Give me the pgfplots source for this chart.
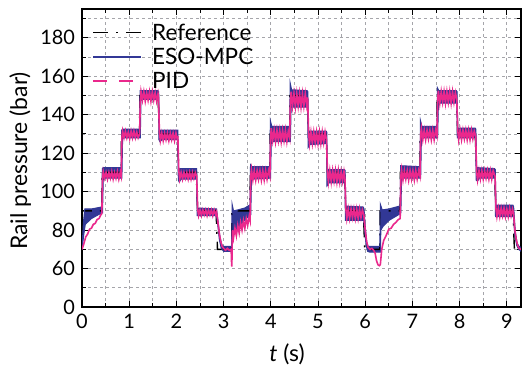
\documentclass[border=0pt]{standalone}
\usepackage{fontspec}
\setmainfont{Lato}
\usepackage{pgfplots}
\pgfplotsset{compat=1.18}
\usepgfplotslibrary{fillbetween}
\definecolor{esoblue}{RGB}{50,56,150}
\definecolor{pidmag}{RGB}{234,40,140}
\definecolor{gridgray}{RGB}{165,165,170}
\begin{document}
\begin{tikzpicture}
\begin{axis}[
  name=ax,
  scale only axis, width=219.5bp, height=149bp,
  xmin=0, xmax=9.3, ymin=40, ymax=195,
  xtick={0,1,...,9}, minor xtick={0.5,1.5,...,8.5},
  ytick={40,60,80,100,120,140,160,180},
  yticklabels={0,60,80,100,120,140,160,180},
  minor ytick={50,70,...,190},
  grid=both,
  major grid style={gridgray, line width=0.4bp, dash pattern=on 1.5bp off 1.5bp},
  minor grid style={gridgray, line width=0.4bp, dash pattern=on 1.5bp off 1.5bp},
  major tick length=3bp, minor tick length=2bp,
  tick style={black, line width=0.5bp},
  axis line style={black, line width=0.6bp},
  /pgf/number format/assume math mode=true,
  ticklabel style={font=\fontsize{10}{12}\selectfont},
  xlabel={\textit{t} (s)},
  ylabel={Rail pressure (bar)},
  label style={font=\fontsize{11.5}{13}\selectfont},
  xlabel style={at={(axis description cs:0.467,0)}, anchor=center, yshift=-23.5bp},
  ylabel style={at={(axis description cs:-0.141,0.49)}, anchor=center},
  legend style={at={(axis description cs:0.02,0.966)}, anchor=north west, fill=none, draw=none,
    font=\fontsize{11.3}{13}\selectfont, row sep=-0.1bp, inner sep=0.5bp,
    nodes={text depth=0pt}},
  legend cell align=left,
  legend image code/.code={\draw[#1] (0bp,0bp) -- (24bp,0bp); \path (27bp,0bp);},
]
\addlegendimage{black, line width=0.8bp, dash pattern=on 7.5bp off 4bp on 1bp off 4bp}
\addlegendentry{Reference}
\addlegendimage{esoblue, line width=1bp}
\addlegendentry{ESO-MPC}
\addlegendimage{pidmag, line width=0.9bp, dash pattern=on 7bp off 6bp}
\addlegendentry{PID}

% Reference
\addplot[forget plot, black, line width=0.7bp, dash pattern=on 7.5bp off 4bp on 1bp off 4bp] coordinates {
(0,70) (0.005,90) (0.42,90) (0.425,110) (0.83,110) (0.835,130) (1.22,130) (1.225,150)
(1.61,150) (1.64,130) (2.02,130) (2.05,110) (2.42,110) (2.45,90) (2.84,90) (2.87,70)
(3.17,70) (3.175,90) (3.56,90) (3.565,110) (3.98,110) (3.985,130) (4.40,130) (4.405,150)
(4.77,150) (4.80,130) (5.17,130) (5.20,110) (5.56,110) (5.59,90) (5.96,90) (5.99,70)
(6.31,70) (6.315,90) (6.74,90) (6.745,110) (7.16,110) (7.165,130) (7.52,130) (7.525,150)
(7.93,150) (7.96,130) (8.33,130) (8.36,110) (8.74,110) (8.77,90) (9.13,90) (9.16,70) (9.3,70)
};

% ESO-MPC band: upper and lower envelopes
\addplot[forget plot, name path=U, esoblue, line width=0.5bp] coordinates {
(0,70) (0.03,84) (0.06,91) (0.2,91) (0.41,92)
(0.42,92) (0.43,112) (0.45,112.5) (0.82,112.5)
(0.83,112.5) (0.84,132) (0.86,132.5) (1.21,132.5)
(1.22,132.5) (1.23,152.5) (1.61,152.5)
(1.625,152) (1.64,132) (2.02,132)
(2.03,132) (2.045,112) (2.42,112)
(2.43,112) (2.445,91.5) (2.85,91)
(2.88,85) (2.92,77) (2.96,72.5) (3.0,71.5) (3.16,71.5)
(3.17,71.5) (3.18,93.5) (3.21,90) (3.3,90.5) (3.45,91.5) (3.55,93)
(3.56,93) (3.57,114) (3.6,113) (3.97,113)
(3.98,113) (3.99,137) (4.02,134) (4.39,134)
(4.40,134) (4.41,156.5) (4.44,153) (4.77,152.5)
(4.785,152) (4.80,131.5) (5.17,131.5)
(5.185,131) (5.20,111.5) (5.56,111.5)
(5.575,111) (5.59,92.5) (5.96,92)
(5.975,91) (6.0,82) (6.03,74) (6.06,71.5) (6.30,71.5)
(6.31,71.5) (6.32,93.5) (6.36,90.5) (6.5,91) (6.73,92.5)
(6.74,93) (6.75,113.5) (7.15,113)
(7.16,113) (7.17,137) (7.2,134) (7.51,134)
(7.52,134) (7.53,154) (7.56,152.5) (7.93,152.5)
(7.945,152) (7.96,133) (8.33,133)
(8.345,132.5) (8.36,112.5) (8.74,112)
(8.755,111.5) (8.77,93) (9.13,93)
(9.145,92) (9.18,79) (9.22,73) (9.26,71.5) (9.3,71)
};
\addplot[forget plot, name path=L, esoblue, line width=0.5bp] coordinates {
(0,70) (0.04,78) (0.07,83) (0.2,86) (0.42,89)
(0.435,89) (0.45,106) (0.47,107) (0.83,107)
(0.845,107) (0.86,127.5) (0.88,128) (1.22,128)
(1.235,128) (1.25,147.5) (1.27,148) (1.62,148)
(1.63,127) (1.65,126) (1.7,127) (2.03,127)
(2.04,106) (2.06,105) (2.1,106.5) (2.43,106.5)
(2.44,87.5) (2.5,87.5) (2.85,87.5)
(2.875,83) (2.91,75) (2.95,70.5) (3.0,69) (3.17,69)
(3.185,69) (3.19,76) (3.25,79.5) (3.4,84) (3.56,88)
(3.575,88) (3.59,106.5) (3.98,107)
(3.995,107) (4.01,126) (4.40,126)
(4.415,126) (4.43,144) (4.78,144)
(4.79,123) (4.83,124.5) (5.18,125)
(5.19,103) (5.23,104.5) (5.57,104.5)
(5.58,85) (5.97,85)
(5.99,79) (6.02,72) (6.05,69) (6.1,68.5) (6.31,68.5)
(6.325,68.5) (6.33,80) (6.38,82) (6.5,85) (6.74,88.5)
(6.755,89) (6.77,107) (7.16,107)
(7.175,107) (7.19,128) (7.52,128)
(7.535,128) (7.55,146) (7.94,146)
(7.95,128) (8.34,128)
(8.35,106) (8.38,105.5) (8.42,107) (8.75,107)
(8.76,87) (9.14,87)
(9.17,77) (9.21,72) (9.25,70) (9.3,69)
};
\addplot[forget plot, esoblue] fill between[of=U and L];

% PID
\addplot[forget plot, pidmag, line width=0.8bp] coordinates {
(0,70) (0.04,73) (0.08,76.5) (0.12,78) (0.16,80.5) (0.2,81) (0.24,83) (0.28,83.5) (0.32,85.5) (0.36,86) (0.4,88) (0.42,88.5)
(0.435,107) (0.45,110.5) (0.48,107) (0.51,110) (0.54,106.5) (0.57,110) (0.6,107) (0.63,110.5) (0.66,106.5) (0.69,110) (0.72,107) (0.75,110.5) (0.78,106.5) (0.81,110) (0.83,108)
(0.845,128) (0.86,131.5) (0.89,128) (0.92,131.5) (0.95,128) (0.98,131) (1.01,127.5) (1.04,131.5) (1.07,128) (1.10,131.5) (1.13,128) (1.16,131) (1.19,128) (1.22,130)
(1.235,147) (1.25,152) (1.28,147.5) (1.31,152) (1.34,147) (1.37,151.5) (1.40,147.5) (1.43,152) (1.46,147) (1.49,152) (1.52,147.5) (1.55,151.5) (1.58,147) (1.61,151) (1.62,149)
(1.64,131) (1.66,126.5) (1.69,130.5) (1.72,126.5) (1.75,130.5) (1.78,127) (1.81,130.5) (1.84,126.5) (1.87,130.5) (1.90,127) (1.93,130.5) (1.96,126.5) (1.99,130.5) (2.02,127) (2.03,129)
(2.05,111) (2.07,106.5) (2.10,110) (2.13,106.5) (2.16,110) (2.19,107) (2.22,110) (2.25,106.5) (2.28,110) (2.31,106.5) (2.34,110) (2.37,107) (2.40,110) (2.43,108)
(2.45,91) (2.47,87.5) (2.50,90.5) (2.53,87.5) (2.56,90.5) (2.59,88) (2.62,90.5) (2.65,87.5) (2.68,90.5) (2.71,88) (2.74,90.5) (2.77,87.5) (2.80,90.5) (2.83,88) (2.85,89.5)
(2.88,84) (2.91,78) (2.94,74) (2.97,71.5) (3.0,70.5) (3.04,69.5) (3.08,70.5) (3.12,69.5) (3.16,70) (3.17,62) (3.175,61) (3.18,72)
(3.19,80) (3.21,76) (3.24,81) (3.27,77) (3.30,82.5) (3.33,78.5) (3.36,84) (3.39,80) (3.42,85) (3.45,81) (3.48,86) (3.51,82.5) (3.54,87) (3.56,85)
(3.575,108) (3.59,111.5) (3.62,106) (3.65,111) (3.68,106) (3.71,111) (3.74,106.5) (3.77,111) (3.80,106) (3.83,111) (3.86,106) (3.89,111) (3.92,106.5) (3.95,111) (3.98,108)
(3.995,128) (4.01,133) (4.04,126.5) (4.07,132) (4.10,126) (4.13,132) (4.16,126.5) (4.19,132) (4.22,126) (4.25,132) (4.28,126.5) (4.31,132) (4.34,126) (4.37,131.5) (4.40,128)
(4.415,147) (4.43,152) (4.46,144.5) (4.49,151) (4.52,144) (4.55,151) (4.58,144.5) (4.61,151) (4.64,144) (4.67,151) (4.70,144.5) (4.73,151) (4.76,145) (4.78,149)
(4.80,131) (4.82,125) (4.85,131) (4.88,125) (4.91,131) (4.94,125.5) (4.97,131) (5.00,125) (5.03,131) (5.06,125) (5.09,131) (5.12,125.5) (5.15,131) (5.18,127)
(5.20,110.5) (5.22,105) (5.25,111) (5.28,105) (5.31,111) (5.34,105.5) (5.37,111) (5.40,105) (5.43,111) (5.46,105) (5.49,110.5) (5.52,105.5) (5.55,110.5) (5.57,107)
(5.59,91) (5.61,86) (5.64,91) (5.67,86) (5.70,91) (5.73,86.5) (5.76,91) (5.79,86) (5.82,91) (5.85,86) (5.88,91) (5.91,86.5) (5.94,90.5) (5.97,88)
(6.0,80) (6.03,74) (6.06,71) (6.10,70) (6.14,70.5) (6.18,69.5) (6.21,68) (6.24,64) (6.27,62) (6.30,61.5) (6.32,62)
(6.35,70) (6.39,74.5) (6.44,77) (6.50,80.5) (6.55,81) (6.60,83) (6.65,84) (6.70,85.5) (6.74,86)
(6.755,108) (6.77,111.5) (6.80,106) (6.83,111) (6.86,106.5) (6.89,111) (6.92,106) (6.95,111) (6.98,106.5) (7.01,111) (7.04,106) (7.07,111) (7.10,106.5) (7.13,111) (7.16,108)
(7.175,130) (7.19,133) (7.22,127) (7.25,132) (7.28,127) (7.31,132) (7.34,127.5) (7.37,132) (7.40,127) (7.43,132) (7.46,127) (7.49,132) (7.52,129)
(7.535,148) (7.55,152.5) (7.58,146) (7.61,152) (7.64,146.5) (7.67,152) (7.70,146) (7.73,152) (7.76,146.5) (7.79,152) (7.82,146) (7.85,152) (7.88,146.5) (7.91,151.5) (7.94,148)
(7.96,132) (7.98,127) (8.01,132) (8.04,127) (8.07,132) (8.10,127.5) (8.13,132) (8.16,127) (8.19,132) (8.22,127) (8.25,132) (8.28,127.5) (8.31,131.5) (8.34,129)
(8.36,110) (8.38,106) (8.41,111) (8.44,106.5) (8.47,111) (8.50,106.5) (8.53,111) (8.56,107) (8.59,111) (8.62,106.5) (8.65,111) (8.68,106.5) (8.71,111) (8.75,108)
(8.77,91) (8.79,87) (8.82,91.5) (8.85,87) (8.88,91.5) (8.91,87.5) (8.94,91.5) (8.97,87) (9.00,91) (9.03,87) (9.06,91.5) (9.09,87.5) (9.12,91) (9.14,89)
(9.17,80) (9.20,75) (9.23,72) (9.26,70.5) (9.3,70)
};
\end{axis}
\path ([xshift=-41bp,yshift=-30.5bp]ax.south west) rectangle ([xshift=1.5bp,yshift=4.5bp]ax.north east);
\end{tikzpicture}
\end{document}
